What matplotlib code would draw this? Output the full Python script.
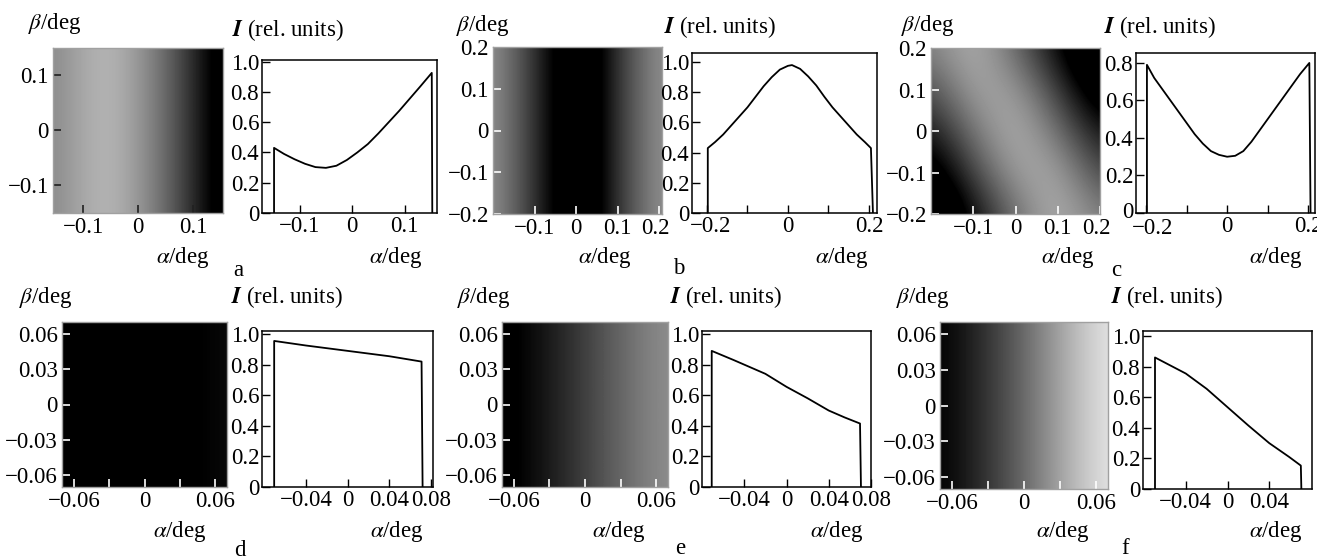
import numpy as np
import matplotlib.pyplot as plt
from matplotlib.transforms import ScaledTranslation

plt.rcParams['font.family'] = 'Liberation Serif'
plt.rcParams['mathtext.fontset'] = 'stix'
plt.rcParams['font.size'] = 16.5

W, H = 1317, 559

# intensity profiles I(alpha)
a_alpha = [-0.149, -0.149, -0.13, -0.11, -0.09, -0.07, -0.05, -0.03, -0.01, 0.01, 0.03, 0.05, 0.07, 0.09, 0.11, 0.13, 0.152, 0.153]
a_I = [0, 0.43, 0.39, 0.355, 0.325, 0.303, 0.298, 0.312, 0.35, 0.40, 0.455, 0.525, 0.60, 0.675, 0.755, 0.835, 0.925, 0]

b_alpha = [-0.198, -0.198, -0.18, -0.16, -0.14, -0.12, -0.10, -0.08, -0.06, -0.04, -0.02, 0.0, 0.01, 0.03, 0.05, 0.07, 0.09, 0.11, 0.13, 0.15, 0.17, 0.19, 0.205, 0.21]
b_I = [0, 0.43, 0.47, 0.52, 0.58, 0.64, 0.70, 0.77, 0.84, 0.90, 0.95, 0.975, 0.98, 0.955, 0.905, 0.845, 0.77, 0.70, 0.64, 0.58, 0.52, 0.47, 0.43, 0]

c_alpha = [-0.198, -0.198, -0.18, -0.16, -0.14, -0.12, -0.10, -0.08, -0.06, -0.04, -0.02, 0.0, 0.02, 0.04, 0.06, 0.08, 0.10, 0.12, 0.14, 0.16, 0.18, 0.203, 0.206]
c_I = [0, 0.79, 0.72, 0.66, 0.60, 0.54, 0.48, 0.42, 0.37, 0.33, 0.31, 0.30, 0.305, 0.33, 0.38, 0.44, 0.50, 0.56, 0.62, 0.68, 0.74, 0.80, 0]

d_alpha = [-0.0707, -0.0707, -0.04, 0.0, 0.04, 0.071, 0.072]
d_I = [0, 0.955, 0.925, 0.89, 0.855, 0.82, 0]

e_alpha = [-0.0708, -0.0708, -0.05, -0.04, -0.02, 0.0, 0.02, 0.04, 0.055, 0.0696, 0.0705]
e_I = [0, 0.89, 0.83, 0.80, 0.74, 0.655, 0.58, 0.50, 0.455, 0.415, 0]

f_alpha = [-0.0695, -0.0695, -0.04, -0.02, 0.0, 0.02, 0.04, 0.059, 0.0703, 0.0708]
f_I = [0, 0.86, 0.755, 0.655, 0.535, 0.415, 0.30, 0.21, 0.153, 0]

# intensity maps I(alpha, beta), coarse samples (rows = beta, low to high)
a_img = [[0.43, 0.34, 0.30, 0.39, 0.53, 0.715, 0.92]]          # alpha -0.15..0.15
b_img = [[0.43, 0.55, 0.70, 0.87, 0.975, 0.905, 0.70, 0.55, 0.43]]  # alpha -0.2..0.2
c_img = [[1.15, 0.82, 0.51, 0.30, 0.47],
         [0.98, 0.64, 0.36, 0.34, 0.64],
         [0.79, 0.49, 0.30, 0.50, 0.80],
         [0.62, 0.35, 0.37, 0.66, 1.00],
         [0.46, 0.30, 0.53, 0.83, 1.15]]                        # alpha, beta -0.2..0.2
d_img = [[0.955, 0.92, 0.89, 0.86, 0.82]]                       # alpha -0.07..0.07
e_img = [[0.89, 0.79, 0.66, 0.52, 0.415]]
f_img = [[0.86, 0.715, 0.535, 0.33, 0.153]]

fig = plt.figure(figsize=(W / 100, H / 100), dpi=100)


def box(l, r, t, b):
    return fig.add_axes([l / W, 1 - b / H, (r - l) / W, (b - t) / H])


def fmt(v):
    if abs(v) < 1e-9:
        return '0'
    s = '%g' % abs(v)
    if s == '1':
        s = '1.0'
    return ('\u2212' if v < 0 else '') + s


def nudge(label, dx, dy=0):
    label.set_transform(label.get_transform() + ScaledTranslation(dx / 100, dy / 100, fig.dpi_scale_trans))


def image_panel(pos, data, ext, xlim, ylim, xt, xl, yt, yl, tcol='white'):
    ax = box(*pos)
    ax.imshow(np.array(data), cmap='gray_r', vmin=0.08, vmax=0.85, origin='lower',
              extent=ext, aspect='auto', interpolation='bicubic')
    ax.set_xlim(*xlim)
    ax.set_ylim(*ylim)
    ax.set_xticks(xt)
    ax.set_xticklabels(xl)
    ax.set_yticks(yt)
    ax.set_yticklabels(yl)
    ax.tick_params(direction='in', length=6, width=1.2, color=tcol, pad=3)
    for s in ax.spines.values():
        s.set_color('#a0a0a0')
        s.set_linewidth(1.0)
    return ax


def line_panel(pos, x, y, xlim, ylim, xt, xl, yt):
    ax = box(*pos)
    ax.plot(x, y, color='black', lw=1.3)
    ax.set_xlim(*xlim)
    ax.set_ylim(*ylim)
    ax.set_xticks(xt)
    ax.set_xticklabels(xl)
    ax.set_yticks(yt)
    ax.set_yticklabels([fmt(v) for v in yt])
    ax.tick_params(direction='in', length=6, width=1.0, pad=2)
    for s in ax.spines.values():
        s.set_linewidth(1.1)
    return ax


t1 = [-0.1, 0, 0.1]
t1l = ['\u22120.1', '0', '0.1']
t2 = [-0.1, 0, 0.1, 0.2]
t2l = ['\u22120.1', '0', '0.1', '0.2']
t2y = [-0.2, -0.1, 0, 0.1, 0.2]
t2yl = ['\u22120.2', '\u22120.1', '0', '0.1', '0.2']
t3 = [-0.06, -0.03, 0, 0.03, 0.06]
t3l = ['\u22120.06', '', '0', '', '0.06']
t3yl = ['\u22120.06', '\u22120.03', '0', '0.03', '0.06']
y10 = [0, 0.2, 0.4, 0.6, 0.8, 1.0]
y08 = [0, 0.2, 0.4, 0.6, 0.8]
x5 = [-0.2, -0.1, 0, 0.1, 0.2]
x5l = ['\u22120.2', '', '0', '', '0.2']

# top row
image_panel((53, 223, 48, 213), a_img, (-0.175, 0.175, -0.2, 0.2), (-0.155, 0.155), (-0.15, 0.15),
            t1, t1l, t1, t1l, tcol='#202020')
line_panel((262, 437, 60, 213), a_alpha, a_I, (-0.172, 0.162), (0, 1.01), t1, t1l, y10)

ax = image_panel((493, 662, 47, 214), b_img, (-0.225, 0.225, -0.25, 0.25), (-0.2, 0.207), (-0.2, 0.2),
                 t2, t2l, t2y, t2yl)
nudge(ax.get_xticklabels()[-1], -4)
ax = line_panel((692, 877, 53, 213), b_alpha, b_I, (-0.237, 0.22), (0, 1.06), x5, x5l, y10)
nudge(ax.get_xticklabels()[0], 4)

ax = image_panel((931, 1100, 48, 214), c_img, (-0.25, 0.25, -0.25, 0.25), (-0.2, 0.2), (-0.2, 0.2),
                 t2, t2l, t2y, t2yl)
nudge(ax.get_xticklabels()[-1], -4)
ax = line_panel((1136, 1315, 53, 213), c_alpha, c_I, (-0.225, 0.217), (0, 0.853), x5, x5l, y08)
nudge(ax.get_xticklabels()[0], 6, -2)
nudge(ax.get_yticklabels()[0], 0, 3)

# bottom row
for pos, img in [((62, 227, 322, 487), d_img), ((502, 668, 322, 487), e_img),
                 ((940, 1108, 322, 489), f_img)]:
    image_panel(pos, img, (-0.0875, 0.0875, -0.1, 0.1), (-0.07, 0.07), (-0.07, 0.07),
                t3, t3l, t3, t3yl)

x4 = [-0.04, 0, 0.04, 0.08]
x4l = ['\u22120.04', '0', '0.04', '0.08']
line_panel((262, 433, 331, 487), d_alpha, d_I, (-0.0824, 0.082), (0, 1.02), x4, x4l, y10)
line_panel((702, 871, 331, 487), e_alpha, e_I, (-0.08, 0.08), (0, 1.02), x4, x4l, y10)
line_panel((1143, 1312, 331, 489), f_alpha, f_I, (-0.081, 0.081), (0, 1.033),
           [-0.04, 0, 0.04], ['\u22120.04', '0', '0.04'], y10)


def ftext(x, y, s, **kw):
    fig.text(x / W, 1 - y / H, s, ha='center', va='center', **kw)


beta_lbl = r'$\beta$/deg'
alpha_lbl = r'$\alpha$/deg'
I_lbl = r'$\mathbfit{I}$ (rel. units)'

for x, y in [(55, 23), (483, 25), (928, 25), (46, 297), (484, 297), (923, 297)]:
    ftext(x, y, beta_lbl)
for x, y in [(288, 30), (720, 27), (1160, 27), (287, 297), (726, 297), (1167, 297)]:
    ftext(x, y, I_lbl)
for x, y in [(183, 258), (605, 258), (1068, 258), (396, 258), (842, 258), (1276, 258),
             (180, 532), (619, 532), (1063, 532), (397, 532), (837, 532), (1276, 532)]:
    ftext(x, y, alpha_lbl)
for x, y, s in [(238, 270, 'a'), (679, 269, 'b'), (1116, 270, 'c'),
                (240, 550, 'd'), (680, 549, 'e'), (1125, 549, 'f')]:
    ftext(x, y, s)

fig.savefig('out.png', dpi=100)
